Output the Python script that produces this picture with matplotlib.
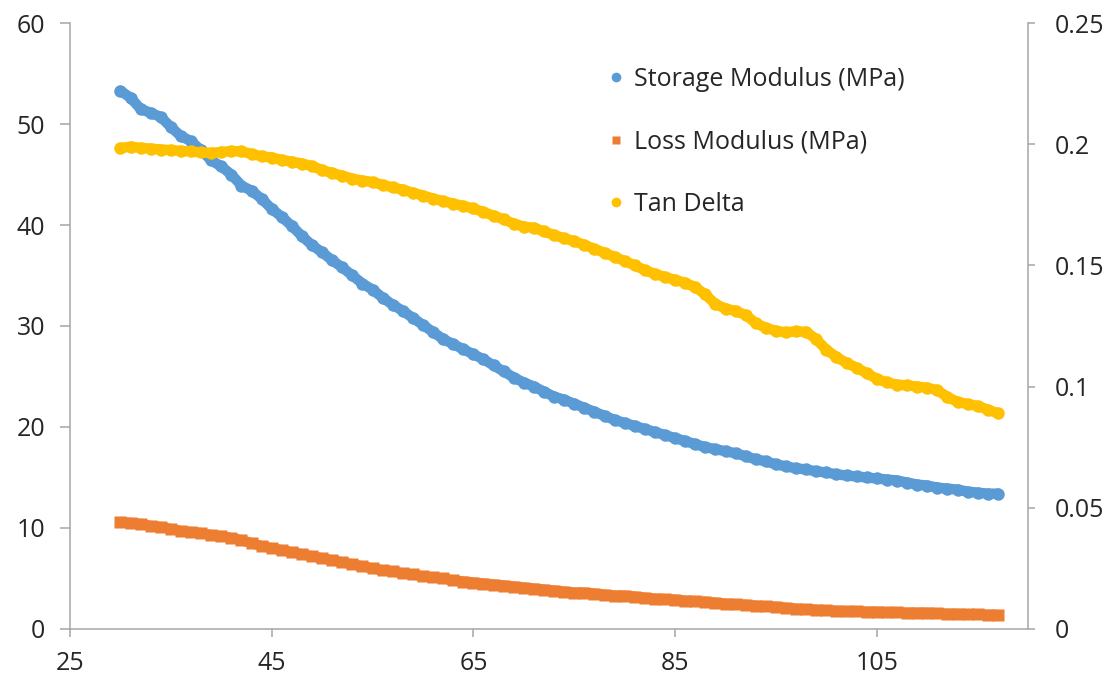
import matplotlib
matplotlib.use("Agg")
import matplotlib.pyplot as plt
from matplotlib.lines import Line2D

# ---- data ----
temperature = list(range(30, 118))

storage_modulus = [
    53.3, 52.6, 51.5, 51.1, 50.7, 49.7, 48.8, 48.3, 47.4, 46.4,
    45.8, 45.0, 43.9, 43.4, 42.6, 41.6, 40.8, 39.9, 38.9, 38.0,
    37.3, 36.5, 35.8, 35.0, 34.2, 33.6, 32.8, 32.1, 31.5, 30.8,
    30.1, 29.4, 28.7, 28.2, 27.7, 27.2, 26.7, 26.1, 25.5, 24.9,
    24.4, 24.0, 23.5, 23.0, 22.7, 22.3, 21.9, 21.5, 21.1, 20.7,
    20.4, 20.1, 19.8, 19.5, 19.2, 18.9, 18.6, 18.3, 18.0, 17.8,
    17.6, 17.4, 17.1, 16.8, 16.6, 16.3, 16.1, 15.9, 15.8, 15.6,
    15.5, 15.3, 15.2, 15.1, 15.0, 14.9, 14.8, 14.7, 14.5, 14.3,
    14.2, 14.0, 13.9, 13.8, 13.6, 13.5, 13.4, 13.4,
]

loss_modulus = [
    10.6, 10.5, 10.4, 10.2, 10.1, 9.9, 9.7, 9.6, 9.5, 9.3,
    9.2, 9.0, 8.8, 8.5, 8.2, 8.0, 7.8, 7.6, 7.4, 7.2,
    7.0, 6.8, 6.6, 6.4, 6.2, 6.0, 5.8, 5.7, 5.5, 5.4,
    5.2, 5.1, 5.0, 4.8, 4.7, 4.6, 4.5, 4.4, 4.3, 4.2,
    4.1, 4.0, 3.9, 3.8, 3.7, 3.6, 3.6, 3.5, 3.4, 3.3,
    3.3, 3.2, 3.1, 3.0, 2.95, 2.9, 2.8, 2.75, 2.7, 2.6,
    2.5, 2.45, 2.4, 2.3, 2.25, 2.2, 2.1, 2.0, 1.95, 1.9,
    1.85, 1.8, 1.75, 1.75, 1.7, 1.7, 1.65, 1.65, 1.6, 1.6,
    1.6, 1.55, 1.5, 1.5, 1.45, 1.45, 1.4, 1.4,
]

tan_delta = [
    0.1984, 0.1990, 0.1985, 0.1982, 0.1978, 0.1976, 0.1972, 0.1970, 0.1966, 0.1964,
    0.1968, 0.1972, 0.1970, 0.1960, 0.1950, 0.1945, 0.1935, 0.1928, 0.1920, 0.1910,
    0.1893, 0.1881, 0.1870, 0.1858, 0.1850, 0.1844, 0.1832, 0.1822, 0.1812, 0.1800,
    0.1788, 0.1776, 0.1765, 0.1755, 0.1745, 0.1735, 0.1720, 0.1705, 0.1690, 0.1672,
    0.1660, 0.1655, 0.1640, 0.1625, 0.1612, 0.1600, 0.1585, 0.1568, 0.1552, 0.1535,
    0.1518, 0.1500, 0.1480, 0.1465, 0.1452, 0.1440, 0.1428, 0.1410, 0.1380, 0.1340,
    0.1322, 0.1312, 0.1295, 0.1262, 0.1242, 0.1230, 0.1224, 0.1228, 0.1226, 0.1195,
    0.1152, 0.1122, 0.1097, 0.1078, 0.1055, 0.1032, 0.1017, 0.1008, 0.1005, 0.1000,
    0.0995, 0.0985, 0.0957, 0.0937, 0.0928, 0.0920, 0.0905, 0.0890,
]

x_ticks = [25, 45, 65, 85, 105]
left_ticks = [0, 10, 20, 30, 40, 50, 60]
right_ticks = [0, 0.05, 0.1, 0.15, 0.2, 0.25]
right_tick_labels = ["0", "0.05", "0.1", "0.15", "0.2", "0.25"]
labels = ["Storage Modulus (MPa)", "Loss Modulus (MPa)", "Tan Delta"]

# ---- style ----
BLUE = "#5B9BD5"
ORANGE = "#ED7D31"
YELLOW = "#FFC000"
SPINE = "#A6A6A6"
TEXT = "#262626"

plt.rcParams["font.family"] = ["Open Sans", "DejaVu Sans"]

fig = plt.figure(figsize=(11.18, 6.81), dpi=100)
ax = fig.add_axes([0.0626, 0.0764, 0.8570, 0.8898])
ax2 = ax.twinx()

ax.plot(temperature, storage_modulus, color=BLUE, lw=7.5, marker="o", ms=9,
        mec="none", solid_capstyle="round", zorder=3)
ax.plot(temperature, loss_modulus, color=ORANGE, lw=7.5, marker="s", ms=8.5,
        mec="none", solid_capstyle="butt", zorder=3)
ax2.plot(temperature, tan_delta, color=YELLOW, lw=7.5, marker="o", ms=9,
         mec="none", solid_capstyle="round", zorder=3)

ax.set_xlim(25, 120)
ax.set_ylim(0, 60)
ax2.set_ylim(0, 0.25)
ax.set_xticks(x_ticks)
ax.set_yticks(left_ticks)
ax2.set_yticks(right_ticks)
ax2.set_yticklabels(right_tick_labels)

for a in (ax, ax2):
    a.set_facecolor("none")
    for s in a.spines.values():
        s.set_color(SPINE)
        s.set_linewidth(1.1)
    a.spines["top"].set_visible(False)

ax.spines["right"].set_visible(False)
ax2.spines["left"].set_visible(False)
ax2.spines["bottom"].set_visible(False)

ax.tick_params(axis="y", direction="out", length=7, width=1.1, color=SPINE,
               labelsize=18, labelcolor=TEXT, pad=11)
ax.tick_params(axis="x", direction="out", length=6, width=1.1, color=SPINE,
               labelsize=18, labelcolor=TEXT, pad=10)
ax2.tick_params(axis="y", direction="out", length=5, width=1.1, color=SPINE,
                labelsize=18, labelcolor=TEXT, pad=14)

handles = [
    Line2D([], [], ls="none", marker="o", ms=7, color=BLUE, mec="none"),
    Line2D([], [], ls="none", marker="s", ms=6, color=ORANGE, mec="none"),
    Line2D([], [], ls="none", marker="o", ms=7, color=YELLOW, mec="none"),
]
leg = fig.legend(handles, labels, loc="upper left",
                 bbox_to_anchor=(598 / 1118, 1 - 57 / 681),
                 frameon=False, fontsize=18, labelspacing=1.5,
                 handlelength=0.6, handletextpad=0.45, borderaxespad=0)
for t in leg.get_texts():
    t.set_color(TEXT)

fig.savefig("out.png", dpi=100)
